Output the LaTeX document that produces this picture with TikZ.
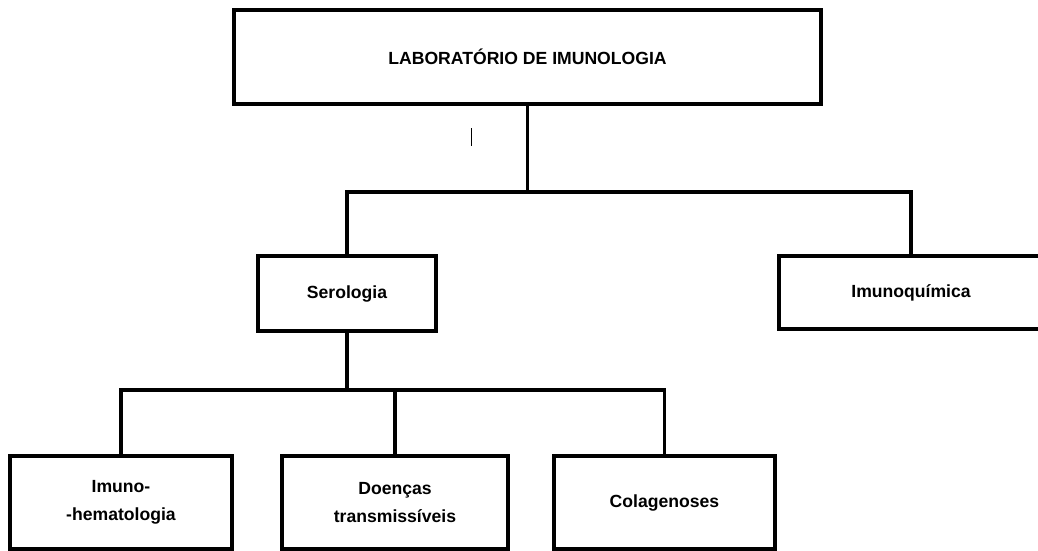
\documentclass[tikz,border=0pt]{standalone}
\usepackage{fontspec}
\setmainfont{Liberation Sans}
\begin{document}
\begin{tikzpicture}[x=1pt,y=-1pt,
  unit/.style={draw,line width=3.1pt,rectangle,inner sep=0pt,
    font=\fontsize{17.6}{28}\selectfont\bfseries,align=center},
  link/.style={line width=3.1pt}]
\useasboundingbox (0,0) rectangle (1038,551);
\clip (0,0) rectangle (1038,551);

% organisation units
\node[unit,minimum width=587pt,minimum height=94pt] (lab) at (527.5,57)
  {LABORAT\'ORIO DE IMUNOLOGIA};
\node[unit,minimum width=178pt,minimum height=75pt] (sero) at (347,293.5) {Serologia};
\node[unit,minimum width=264pt,minimum height=73pt] (imq) at (911,292.5) {Imunoqu\'imica};
\node[unit,minimum width=222pt,minimum height=93pt] (imh) at (121,502.5) {Imuno-\\-hematologia};
\node[unit,minimum width=226pt,minimum height=93pt] (doe) at (395,502.5) {Doen\c{c}as\\transmiss\'iveis};
\node[unit,minimum width=221pt,minimum height=93pt] (col) at (664.5,502.5) {Colagenoses};

% branching levels
\coordinate (busA) at (0,192);
\coordinate (busB) at (0,390);

% connectors
\draw[link] (lab.south) -- (lab.south |- busA);
\draw[link] (sero.north) -- (sero.north |- busA) -| (imq.north);
\draw[link] (sero.south) -- (sero.south |- busB);
\draw[link] (imh.north) -- (imh.north |- busB) -| (col.north);
\draw[link] (doe.north) -- (doe.north |- busB);

% small stray tick below the top box
\coordinate (tickA) at (471,128);
\coordinate (tickB) at (471,146);
\draw[line width=1pt] (tickA) -- (tickB);
\end{tikzpicture}
\end{document}
